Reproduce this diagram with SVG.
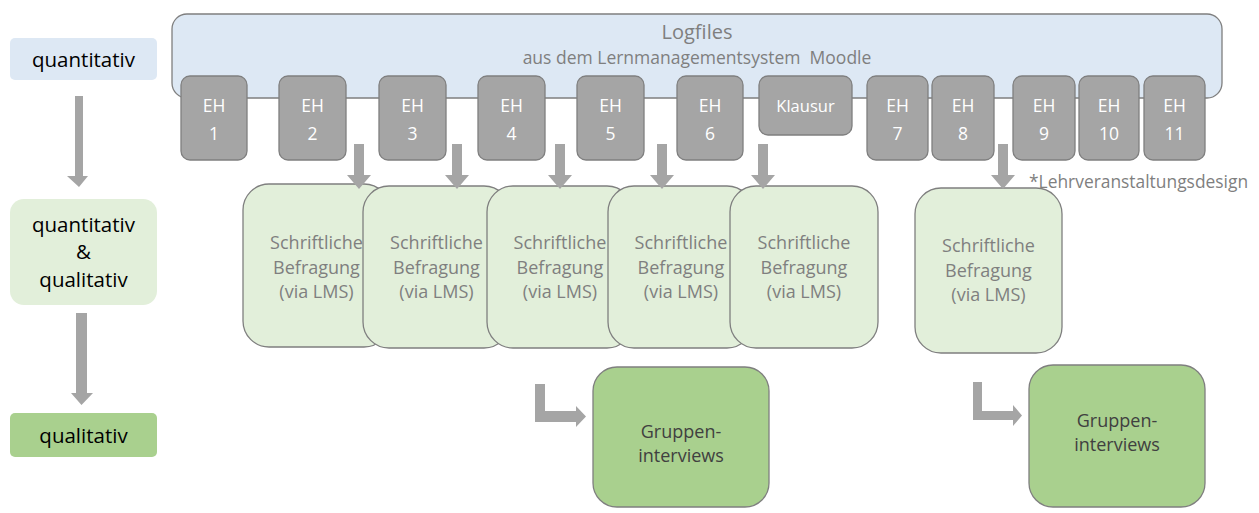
<svg xmlns="http://www.w3.org/2000/svg" width="1259" height="513" viewBox="0 0 1259 513">
<style>
text{font-family:"Open Sans","Noto Sans","Liberation Sans",sans-serif;text-anchor:middle}
.lab{font-size:20.5px;fill:#000}
.eh rect{fill:#a5a5a5;stroke:#7f7f7f;stroke-width:1.3}
.eh text{font-size:17.5px;fill:#fff}
.sv rect{fill:#e2efda;stroke:#7f7f7f;stroke-width:1.3}
.sv text{font-size:18px;fill:#7f7f7f}
.gi rect{fill:#a9d08e;stroke:#7f7f7f;stroke-width:1.3}
.gi text{font-size:18px;fill:#404040}
.arr{fill:#a5a5a5}
</style>
<rect width="1259" height="513" fill="#fff"/>
<g id="lbl-quant"><rect x="10" y="38" width="147" height="42" rx="5" fill="#dde8f4"/><text class="lab" x="83.5" y="67">quantitativ</text></g>
<g id="lbl-mixed"><rect x="10" y="199" width="147" height="106" rx="14" fill="#e2efda"/><text class="lab" x="83.5" y="232">quantitativ</text><text class="lab" x="83.5" y="259">&amp;</text><text class="lab" x="83.5" y="287">qualitativ</text></g>
<g id="lbl-qual"><rect x="10" y="413" width="147" height="44" rx="5" fill="#a9d08e"/><text class="lab" x="83.5" y="443">qualitativ</text></g>
<g id="logfiles"><rect x="172" y="14" width="1050" height="84" rx="15" fill="#dde8f4" stroke="#7f7f7f" stroke-width="1.3"/><text x="697" y="39" font-size="20" fill="#7f7f7f">Logfiles</text><text x="697" y="64" font-size="17.5" fill="#7f7f7f" xml:space="preserve">aus dem Lernmanagementsystem  Moodle</text></g>
<g id="eh1" class="eh"><rect x="181" y="76" width="66" height="84" rx="9"/><text x="214" y="112">EH</text><text x="214" y="140">1</text></g>
<g id="eh2" class="eh"><rect x="279" y="76" width="67" height="84" rx="9"/><text x="312.5" y="112">EH</text><text x="312.5" y="140">2</text></g>
<g id="eh3" class="eh"><rect x="379" y="76" width="67" height="84" rx="9"/><text x="412.5" y="112">EH</text><text x="412.5" y="140">3</text></g>
<g id="eh4" class="eh"><rect x="478" y="76" width="67" height="84" rx="9"/><text x="511.5" y="112">EH</text><text x="511.5" y="140">4</text></g>
<g id="eh5" class="eh"><rect x="577" y="76" width="67" height="84" rx="9"/><text x="610.5" y="112">EH</text><text x="610.5" y="140">5</text></g>
<g id="eh6" class="eh"><rect x="677" y="76" width="66" height="84" rx="9"/><text x="710" y="112">EH</text><text x="710" y="140">6</text></g>
<g id="klausur" class="eh"><rect x="759" y="76" width="93" height="59" rx="9"/><text x="805.5" y="112" style="font-size:16.5px">Klausur</text></g>
<g id="eh7" class="eh"><rect x="867" y="76" width="61" height="84" rx="9"/><text x="897.5" y="112">EH</text><text x="897.5" y="140">7</text></g>
<g id="eh8" class="eh"><rect x="932" y="76" width="62" height="84" rx="9"/><text x="963" y="112">EH</text><text x="963" y="140">8</text></g>
<g id="eh9" class="eh"><rect x="1013" y="76" width="62" height="84" rx="9"/><text x="1044" y="112">EH</text><text x="1044" y="140">9</text></g>
<g id="eh10" class="eh"><rect x="1079" y="76" width="60" height="84" rx="9"/><text x="1109" y="112">EH</text><text x="1109" y="140">10</text></g>
<g id="eh11" class="eh"><rect x="1144" y="76" width="61" height="84" rx="9"/><text x="1174.5" y="112">EH</text><text x="1174.5" y="140">11</text></g>
<text id="footnote" x="1029" y="188" font-size="17.4" fill="#7f7f7f" style="text-anchor:start">*Lehrveranstaltungsdesign</text>
<g id="sv1" class="sv"><rect x="243" y="184" width="147" height="163" rx="26"/><text x="316.5" y="249">Schriftliche</text><text x="316.5" y="274">Befragung</text><text x="316.5" y="298">(via LMS)</text></g>
<g id="sv2" class="sv"><rect x="363" y="186" width="147" height="162" rx="26"/><text x="436.5" y="249">Schriftliche</text><text x="436.5" y="274">Befragung</text><text x="436.5" y="298">(via LMS)</text></g>
<g id="sv3" class="sv"><rect x="487" y="186" width="146" height="162" rx="26"/><text x="560" y="249">Schriftliche</text><text x="560" y="274">Befragung</text><text x="560" y="298">(via LMS)</text></g>
<g id="sv4" class="sv"><rect x="608" y="186" width="145" height="162" rx="26"/><text x="681" y="249">Schriftliche</text><text x="681" y="274">Befragung</text><text x="681" y="298">(via LMS)</text></g>
<g id="sv5" class="sv"><rect x="730" y="186" width="148" height="162" rx="26"/><text x="804" y="249">Schriftliche</text><text x="804" y="274">Befragung</text><text x="804" y="298">(via LMS)</text></g>
<g id="sv6" class="sv"><rect x="915" y="188" width="147" height="165" rx="26"/><text x="988.5" y="252">Schriftliche</text><text x="988.5" y="277">Befragung</text><text x="988.5" y="301">(via LMS)</text></g>
<g id="gi1" class="gi"><rect x="593" y="367" width="176" height="140" rx="24"/><text x="681" y="438">Gruppen-</text><text x="681" y="462">interviews</text></g>
<g id="gi2" class="gi"><rect x="1029" y="365" width="176" height="142" rx="24"/><text x="1117" y="427">Gruppen-</text><text x="1117" y="451">interviews</text></g>
<g id="connectors" class="arr">
<polygon points="75,96 83,96 83,176 88,176 79,187 67,176 75,176"/>
<polygon points="76,313 87,313 87,393 93,393 81.5,405 71,393 76,393"/>
<polygon points="354,144 364,144 364,175 371,175 359,189 347,175 354,175"/>
<polygon points="452,144 462,144 462,175 469,175 457,189 445,175 452,175"/>
<polygon points="555,144 565,144 565,175 572,175 560,189 548,175 555,175"/>
<polygon points="657,144 667,144 667,175 674,175 662,189 650,175 657,175"/>
<polygon points="758,144 768,144 768,175 775,175 763,189 751,175 758,175"/>
<polygon points="998,144 1008,144 1008,175 1015,175 1003,189 991,175 998,175"/>
<polygon points="535,384 545,384 545,411 576,411 576,406 586,416.5 576,427 576,422 535,422"/>
<polygon points="973,382 982,382 982,411 1013,411 1013,405 1022,415.5 1013,426 1013,420 973,420"/>
</g>
</svg>
